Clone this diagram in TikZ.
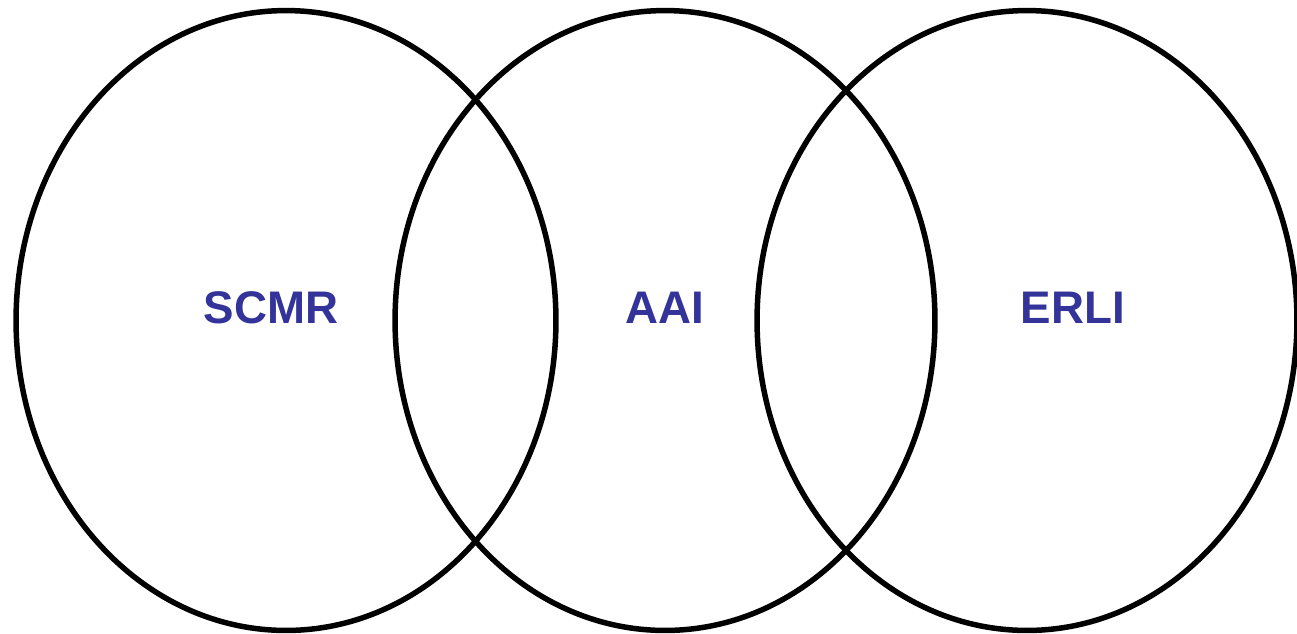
\documentclass[tikz,border=0pt]{standalone}
\usepackage{fontspec}
\setmainfont{Liberation Sans}
\usetikzlibrary{shapes.geometric,positioning}
\definecolor{labelblue}{RGB}{51,51,153}

\begin{document}
\begin{tikzpicture}[x=0.02cm,y=-0.02cm,
  set/.style={draw,ellipse,line width=0.11cm,minimum width=10.8cm,minimum height=12.4cm,inner sep=0pt},
  setname/.style={text=labelblue,font=\fontsize{26}{30}\selectfont\bfseries}]

\useasboundingbox (0,0) rectangle (1297,633);

\node[set] (left)  at (286,320.5)  {};
\node[set] (mid)   at (665,320.5)  {};
\node[set] (right) at (1027,320.5) {};

\node[setname] (scmr) at (271,308)  {SCMR};
\node[setname] (aai)  at (665,308)  {AAI};
\node[setname] (erli) at (1073,308) {ERLI};

\end{tikzpicture}
\end{document}
